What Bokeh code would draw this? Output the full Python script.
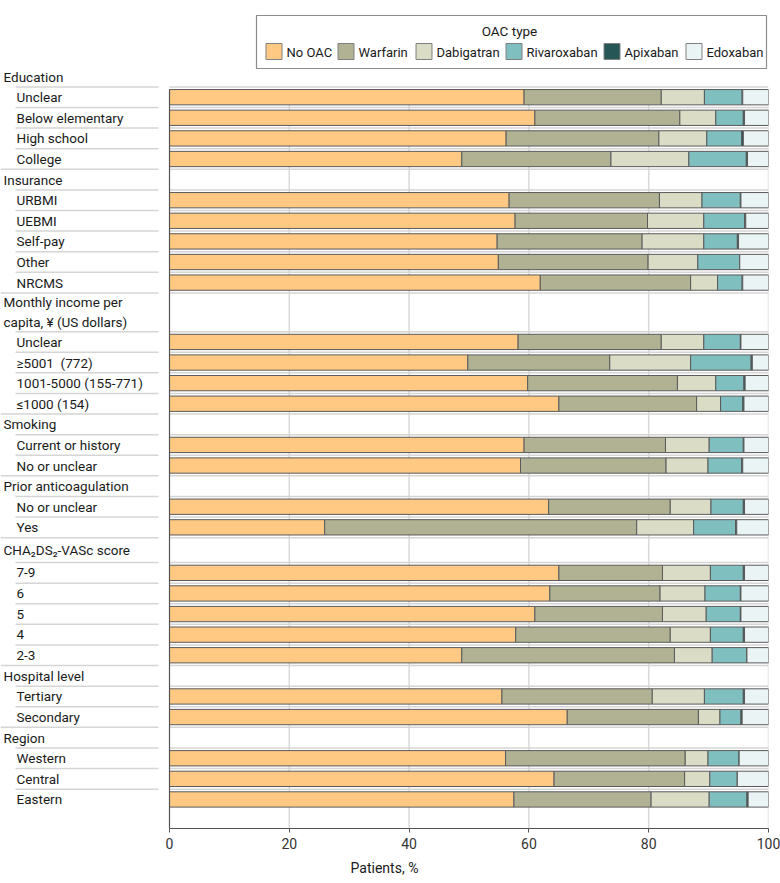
from bokeh.plotting import figure
from bokeh.models import Range1d, ColumnDataSource, FixedTicker
from bokeh.core.properties import value
from bokeh.embed import file_html
from bokeh.resources import INLINE

FONT = "Roboto"
FS = "13.5px"
TXT = "#1a1a1a"

# ---------------- data ----------------
groups = ["Education", "Insurance", "Monthly income per\ncapita, ¥ (US dollars)", "Smoking",
          "Prior anticoagulation", "CHA₂DS₂-VASc score", "Hospital level", "Region"]
group_items = [
    ["Unclear", "Below elementary", "High school", "College"],
    ["URBMI", "UEBMI", "Self-pay", "Other", "NRCMS"],
    ["Unclear", "≥5001\u00a0 (772)", "1001-5000 (155-771)", "≤1000 (154)"],
    ["Current or history", "No or unclear"],
    ["No or unclear", "Yes"],
    ["7-9", "6", "5", "4", "2-3"],
    ["Tertiary", "Secondary"],
    ["Western", "Central", "Eastern"],
]
series = ["No OAC", "Warfarin", "Dabigatran", "Rivaroxaban", "Apixaban", "Edoxaban"]
colors = ["#ffc983", "#b1b294", "#dadcc6", "#80bfc0", "#265655", "#eaf4f5"]

no_oac = [59.2, 61.0, 56.2, 48.8, 56.7, 57.7, 54.7, 54.9, 61.9, 58.2, 49.8, 59.8, 65.0, 59.2,
          58.6, 63.3, 25.9, 65.0, 63.5, 61.0, 57.8, 48.8, 55.5, 66.4, 56.1, 64.2, 57.5]
warfarin = [22.9, 24.2, 25.5, 24.9, 25.1, 22.1, 24.2, 25.0, 25.1, 23.9, 23.7, 25.0, 23.0, 23.6,
            24.3, 20.3, 52.1, 17.3, 18.4, 21.3, 25.8, 35.5, 25.1, 21.9, 30.0, 21.8, 22.9]
dabigatran = [7.2, 6.0, 8.0, 13.0, 7.1, 9.4, 10.3, 8.3, 4.5, 7.1, 13.5, 6.4, 4.0, 7.3,
              7.0, 6.8, 9.5, 8.0, 7.5, 7.3, 6.7, 6.3, 8.7, 3.6, 3.8, 4.2, 9.7]
rivaroxaban = [6.3, 4.6, 5.8, 9.6, 6.4, 6.8, 5.6, 7.0, 4.1, 6.1, 10.1, 4.7, 3.7, 5.7,
               5.6, 5.4, 7.0, 5.5, 5.9, 5.7, 5.5, 5.8, 6.5, 3.5, 5.2, 4.6, 6.3]
apixaban = [0.1, 0.2, 0.3, 0.2, 0.1, 0.2, 0.2, 0.0, 0.1, 0.1, 0.2, 0.2, 0.2, 0.1,
            0.2, 0.2, 0.2, 0.2, 0.1, 0.1, 0.2, 0.0, 0.2, 0.2, 0.0, 0.0, 0.2]
edoxaban = [4.3, 4.0, 4.2, 3.5, 4.6, 3.8, 5.0, 4.8, 4.3, 4.6, 2.7, 3.9, 4.1, 4.1,
            4.3, 4.0, 5.3, 4.0, 4.6, 4.6, 4.0, 3.6, 4.0, 4.4, 4.9, 5.2, 3.4]
x_ticks = [0, 20, 40, 60, 80, 100]

# ---------------- layout constants (pixels) ----------------
W, H = 780, 880
X0_PX, X100_PX = 169, 768          # pixel position of 0 % and 100 %
PXU = (X100_PX - X0_PX) / 100.0    # pixels per percent
FRAME_BOTTOM = 828                 # axis line
HEAD0 = 76.1                       # centre of first header row
ROW_PX = 20.6
BAR_PX = 15.3
HEADER_ROWS = [1, 1, 1.88, 1, 1, 1.21, 1, 1]


def X(px):
    return (px - X0_PX) / PXU


header_lines, header_line_y = [], []
item_y, item_lab, sep_y, sep_full = [], [], [], []
yy = HEAD0 - ROW_PX / 2
for g, items, h in zip(groups, group_items, HEADER_ROWS):
    centre = yy + h * ROW_PX / 2
    parts = g.split("\n")
    for k, part in enumerate(parts):
        header_lines.append(part)
        header_line_y.append(centre + (k - (len(parts) - 1) / 2) * 19.6)
    yy += h * ROW_PX
    sep_y.append(yy); sep_full.append(False)
    for i, it in enumerate(items):
        item_y.append(yy + ROW_PX / 2)
        item_lab.append(it)
        yy += ROW_PX
        sep_y.append(yy); sep_full.append(i == len(items) - 1)
sep_y = sep_y[:-1]; sep_full = sep_full[:-1]
bars_top = item_y[0] - BAR_PX / 2

p = figure(width=W, height=H, x_range=Range1d(X(0), X(X100_PX)),
           y_range=Range1d(FRAME_BOTTOM, 0), y_axis_type=None,
           toolbar_location=None, output_backend="svg",
           min_border_left=0, min_border_right=W - X100_PX, min_border_top=0,
           min_border_bottom=H - FRAME_BOTTOM, outline_line_color=None)
p.grid.visible = False

# x axis
p.xaxis.bounds = (0, 100)
p.xaxis.ticker = FixedTicker(ticks=x_ticks)
p.xaxis.axis_line_color = "#555555"
p.xaxis.axis_line_width = 1.2
p.xaxis.major_tick_line_color = "#555555"
p.xaxis.major_tick_out = 4
p.xaxis.major_tick_in = 0
p.xaxis.minor_tick_line_color = None
p.xaxis.major_label_text_font = FONT
p.xaxis.major_label_text_font_size = "14px"
p.xaxis.major_label_text_color = "#333333"
p.xaxis.major_label_standoff = 5
p.xaxis.axis_label = "Patients, %"
p.xaxis.axis_label_text_font = FONT
p.xaxis.axis_label_text_font_size = "14px"
p.xaxis.axis_label_text_font_style = "normal"
p.xaxis.axis_label_text_color = TXT
p.xaxis.axis_label_standoff = 8

# vertical grid lines
p.segment(x0=x_ticks[1:], x1=x_ticks[1:], y0=[bars_top] * 5, y1=[FRAME_BOTTOM] * 5,
          line_color="#d9d9d9", line_width=1.5)

# row separators: label column and across bars
p.segment(x0=[X(0) if f else X(15) for f in sep_full], x1=[X(158)] * len(sep_y),
          y0=sep_y, y1=sep_y, line_color="#d5d5d5", line_width=1.5)
p.segment(x0=[0] * len(sep_y), x1=[100] * len(sep_y), y0=sep_y, y1=sep_y,
          line_color="#d5d5d5", line_width=1.5)

src = ColumnDataSource(dict(y=item_y, **{s: v for s, v in zip(
    series, [no_oac, warfarin, dabigatran, rivaroxaban, apixaban, edoxaban])}))
p.hbar_stack(series, y="y", height=BAR_PX, color=colors, line_color="#5a5a5a",
             line_width=1, source=src)
# y axis line
p.segment(x0=[0], x1=[0], y0=[bars_top], y1=[FRAME_BOTTOM], line_color="#555555", line_width=1.2)

# labels
p.text(x=[X(3)] * len(header_lines), y=header_line_y, text=header_lines, text_font=value(FONT),
       text_font_size=value(FS), text_color=TXT, text_baseline="middle")
p.text(x=[X(16)] * len(item_lab), y=item_y, text=item_lab, text_font=value(FONT),
       text_font_size=value(FS), text_color=TXT, text_baseline="middle")

# legend
p.quad(left=[X(256)], right=[X(766)], top=[15], bottom=[68], fill_color=None,
       line_color="#8c8c8c", line_width=1.2)
p.text(x=[X(509)], y=[30], text=["OAC type"], text_font=value(FONT), text_font_size=value("13.5px"),
       text_color=TXT, text_align="center", text_baseline="middle")
sw_left = [265, 337, 415, 505, 603, 685]
p.scatter(x=[X(s + 8.5) for s in sw_left], y=[51] * 6, marker="square", size=16,
          fill_color=colors, line_color="#808080", line_width=1)
p.text(x=[X(s + 21) for s in sw_left], y=[52] * 6, text=series, text_font=value(FONT),
       text_font_size=value("13px"), text_color=TXT, text_baseline="middle")

open("out.html", "w").write(file_html(p, INLINE))
